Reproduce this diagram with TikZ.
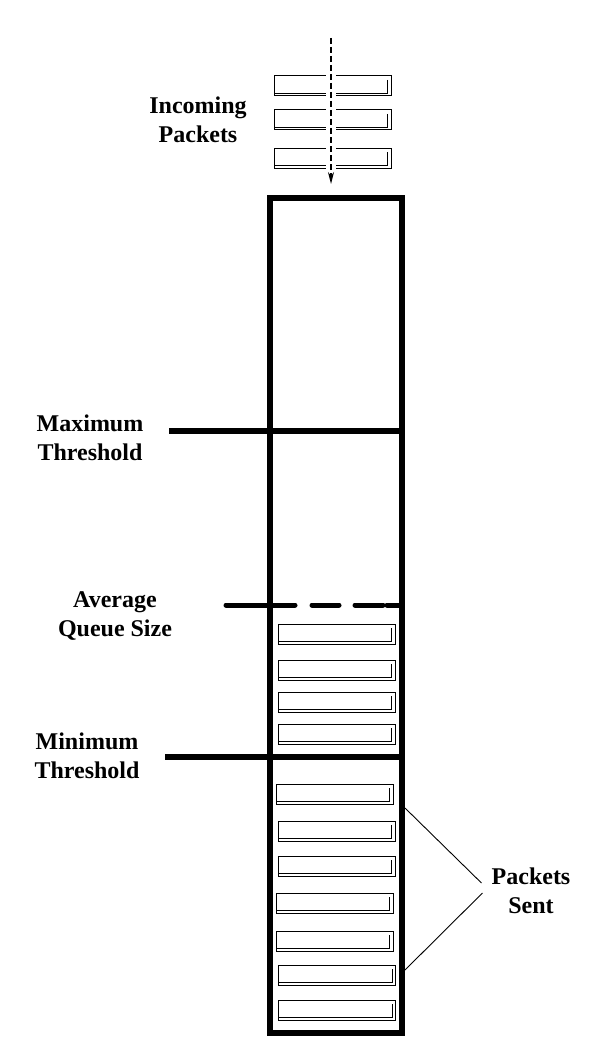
\documentclass[tikz,border=0pt]{standalone}
\usepackage{fontspec}
\setmainfont{Liberation Serif}
\usetikzlibrary{arrows.meta}
\begin{document}
\begin{tikzpicture}[x=1pt,y=-1pt,
  pkt/.style={draw, line width=1pt, minimum width=117pt, minimum height=20pt, inner sep=0pt, outer sep=0pt,
    path picture={\draw[line width=0.9pt]
      ([xshift=-3.5pt,yshift=-4pt]path picture bounding box.north east) --
      ([xshift=-3.5pt,yshift=2.3pt]path picture bounding box.south east) --
      ([yshift=2.3pt]path picture bounding box.south west);}},
  lbl/.style={font=\bfseries\fontsize{24}{29}\selectfont, align=center, inner sep=0pt},
  heavy/.style={line width=6pt},
  thin/.style={line width=0.9pt},
]
\useasboundingbox (0,0) rectangle (603,1038);
% queue
\node[draw, line width=6pt, minimum width=132pt, minimum height=835pt, outer sep=0pt, inner sep=0pt] (queue) at (335.5,615.5) {};
% incoming packets
\node[pkt] (i1) at (332.5,86) {};
\node[pkt] (i2) at (332.5,120) {};
\node[pkt] (i3) at (332.5,158) {};
\coordinate (inTop) at (331,38);
\coordinate (inEnd) at (331,184);
\draw[white, line width=10pt] ([yshift=-30pt]inTop) -- ([yshift=10pt]inEnd);
\draw[line width=1.4pt, dash pattern=on 6pt off 3pt, -{Stealth[length=12pt,width=6pt]}] (inTop) -- (inEnd);
% queued packets
\node[pkt] (q1) at (336.5,634) {};
\node[pkt] (q2) at (336.5,670) {};
\node[pkt] (q3) at (336.5,702) {};
\node[pkt] (q4) at (336.5,734) {};
\node[pkt] (p1) at (334.5,794) {};
\node[pkt] (p2) at (336.5,831) {};
\node[pkt] (p3) at (336.5,866) {};
\node[pkt] (p4) at (334.5,903) {};
\node[pkt] (p5) at (334.5,941) {};
\node[pkt] (p6) at (337,975) {};
\node[pkt] (p7) at (337,1010) {};
% thresholds
\coordinate (maxL) at (169,431);
\draw[heavy] (maxL) -- (maxL -| queue.east);
\coordinate (avgL) at (226,605);
\draw[line width=5pt, line cap=round, dash pattern=on 69pt off 17pt on 27pt off 16pt on 28pt off 4pt on 30pt] (avgL) -- (avgL -| queue.east);
\coordinate (minL) at (165,757);
\draw[heavy] (minL) -- (minL -| queue.east);
% labels
\node[lbl] (inc) at (198,120) {Incoming\\Packets};
\node[lbl] (maxt) at (90,438) {Maximum\\Threshold};
\node[lbl] (avgq) at (115,616) {Average\\Queue Size};
\node[lbl] (mint) at (87,756) {Minimum\\Threshold};
\node[lbl] (ps) at (531,891) {Packets\\Sent};
% packets sent lines
\coordinate (s1) at (405,808);
\coordinate (s2) at (405,970);
\draw[thin] (s1) -- ([xshift=-10pt,yshift=8pt]ps.west);
\draw[thin] (s2) -- ([xshift=-9pt,yshift=-2pt]ps.west);
\end{tikzpicture}
\end{document}
